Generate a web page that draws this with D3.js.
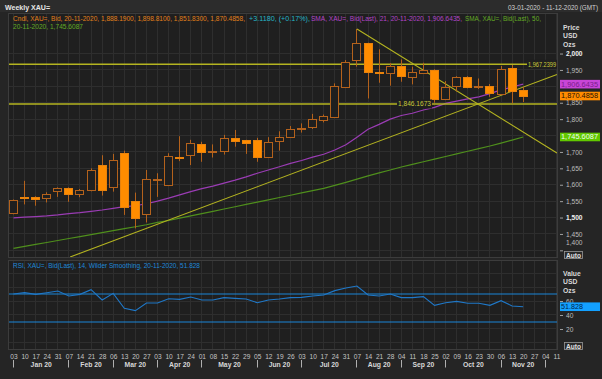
<!DOCTYPE html>
<html><head><meta charset="utf-8">
<script src="https://cdn.jsdelivr.net/npm/d3@7"></script>
<style>
html,body{margin:0;padding:0;background:#262626;}
svg{display:block;font-family:"Liberation Sans","DejaVu Sans",sans-serif;}
</style></head><body>
<svg id="c" width="602" height="379"></svg>
<script>
// ---------------- DATA ----------------
const weeks = ["2020-01-03","2020-01-10","2020-01-17","2020-01-24","2020-01-31",
"2020-02-07","2020-02-14","2020-02-21","2020-02-28",
"2020-03-06","2020-03-13","2020-03-20","2020-03-27",
"2020-04-03","2020-04-10","2020-04-17","2020-04-24",
"2020-05-01","2020-05-08","2020-05-15","2020-05-22","2020-05-29",
"2020-06-05","2020-06-12","2020-06-19","2020-06-26",
"2020-07-03","2020-07-10","2020-07-17","2020-07-24","2020-07-31",
"2020-08-07","2020-08-14","2020-08-21","2020-08-28",
"2020-09-04","2020-09-11","2020-09-18","2020-09-25",
"2020-10-02","2020-10-09","2020-10-16","2020-10-23","2020-10-30",
"2020-11-06","2020-11-13","2020-11-20","2020-11-27",
"2020-12-04","2020-12-11"];
const monthLabels = ["Jan 20","Feb 20","Mar 20","Apr 20","May 20","Jun 20","Jul 20","Aug 20","Sep 20","Oct 20","Nov 20",""];
const openP  = [1513,1564,1563,1559,1581,1590,1571,1584,1659,1592,1696,1551,1510,1616,1598,1686,1691,1724,1700,1703,1743,1735,1737,1684,1733,1746,1770,1777,1797,1807,1897,1980,2031,1945,1940,1963,1929,1940,1950,1860,1901,1929,1899,1901,1877,1955,1888.19];
const highP  = [1555,1612,1565,1577,1592,1592,1587,1650,1690,1694,1704,1576,1645,1635,1696,1748,1737,1731,1723,1752,1767,1737,1743,1745,1763,1779,1787,1816,1814,1909,1980,2075,2033,2013,1971,1982,1960,1972,1952,1916,1931,1931,1924,1907,1962,1965,1898.81];
const lowP   = [1510,1540,1536,1546,1563,1548,1562,1580,1567,1579,1508,1467,1485,1563,1596,1672,1660,1670,1683,1692,1716,1694,1670,1683,1704,1745,1759,1770,1790,1805,1895,1960,1863,1911,1902,1914,1906,1938,1850,1858,1884,1894,1892,1868,1875,1848,1851.83];
const closeP = [1553,1561,1557,1571,1590,1571,1585,1644,1585,1674,1531,1498,1617,1619,1688,1683,1727,1700,1702,1741,1734,1727,1685,1729,1745,1770,1773,1799,1810,1901,1973,2033,1943,1940,1963,1932,1943,1950,1861,1899,1929,1899,1902,1879,1952,1887,1870.4858];
const sma21 = [1499,1501,1503,1505,1508,1512,1515,1519,1523,1528,1533,1536,1542,1550,1559,1569,1579,1588,1596,1605,1614,1624,1635,1645,1655,1665,1674,1684,1693,1706,1722,1745,1769,1784,1800,1811,1818,1828,1836,1848,1855,1862,1868,1878,1889,1898,1906.6435];
const sma50 = [1406,1412,1418,1424,1430,1436,1442,1448,1454,1460,1466,1472,1478,1485,1491,1498,1505,1512,1519,1526,1533,1540,1547,1554,1561,1568,1575,1582,1589,1598,1607,1617,1627,1636,1645,1654,1662,1670,1678,1686,1694,1702,1710,1718,1727,1736,1745.6087];
const rsi = [70.0,71.9,69.5,71.9,74.3,67.1,69.5,76.2,61.4,70.9,49.5,46.2,57.1,57.1,63.3,62.4,65.7,61.4,61.4,64.8,63.8,62.9,57.6,61.4,62.9,64.8,65.2,67.1,68.6,74.8,78.6,81.4,68.6,67.1,70.0,64.8,64.8,66.2,53.8,57.6,59.5,56.7,56.7,53.8,60.5,52.9,51.828];
const priceTicks = [1400,1450,1500,1550,1600,1650,1700,1750,1800,1850,1900,1950,2000];
const rsiTicks = [20,40,60];
const rsiBands = [70,30];
const levels = [1967.2399, 1846.1673];
const trendUp = [[5.11,1379.7],[49.05,1936.4]];
const trendDown = [[31,2075],[49.05,1697]];

// ---------------- LAYOUT ----------------
const W=602,H=379, L=8.5, R=557.5, PT=13.5, PB=257.5, RT=260.5, RB=349.5;
const svg = d3.select("#c");
const dates = weeks.map(d3.timeParse("%Y-%m-%d"));
const x = d3.scaleLinear().domain([0,49]).range([13.5,556.4]);
const y = d3.scaleLinear().domain([1379.7,2123.6]).range([257,13]);
const yr = d3.scaleLinear().domain([-8.6,118.6]).range([349,260]);
const px = v => Math.round(v-0.5)+0.5;
const last = closeP.length-1;

svg.append("rect").attr("width",W).attr("height",H).attr("fill","#252525");
svg.append("rect").attr("width",W).attr("height",12).attr("fill","#2c2c2c");

const defs = svg.append("defs");
defs.append("clipPath").attr("id","cp").append("rect").attr("x",L).attr("y",PT).attr("width",R-L).attr("height",PB-PT);
defs.append("clipPath").attr("id","cr").append("rect").attr("x",L).attr("y",RT).attr("width",R-L).attr("height",RB-RT);

svg.append("rect").attr("x",L).attr("y",PT).attr("width",R-L).attr("height",PB-PT).attr("fill","#1f1f1f");
svg.append("rect").attr("x",L).attr("y",RT).attr("width",R-L).attr("height",RB-RT).attr("fill","#1f1f1f");

// grids
const gp = svg.append("g").attr("clip-path","url(#cp)");
const gr = svg.append("g").attr("clip-path","url(#cr)");
const idx = d3.range(weeks.length);
[gp,gr].forEach((g,k)=>{
  g.selectAll(".vg").data(idx).join("line")
    .attr("x1",i=>px(x(i))).attr("x2",i=>px(x(i)))
    .attr("y1",k?RT:PT).attr("y2",k?RB:PB).attr("stroke","#2e2e2e");
});
gp.selectAll(".hg").data(priceTicks).join("line")
  .attr("x1",L).attr("x2",R).attr("y1",d=>px(y(d))).attr("y2",d=>px(y(d))).attr("stroke","#2e2e2e");
gr.selectAll(".hg").data([0,20,40,60,80,100]).join("line")
  .attr("x1",L).attr("x2",R).attr("y1",d=>px(yr(d))).attr("y2",d=>px(yr(d))).attr("stroke","#2e2e2e");

// SMA lines
const cdata = openP.map((o,i)=>({i,o,h:highP[i],l:lowP[i],c:closeP[i]}));
const line = d3.line().x((d,i)=>x(i)).y(d=>y(d));
gp.append("path").attr("d",line(sma50)).attr("fill","none").attr("stroke","#4f8f1c").attr("stroke-width",1.2);
gp.append("path").attr("d",line(sma21)).attr("fill","none").attr("stroke","#9a3cb4").attr("stroke-width",1.2);

// trend lines
const tl = d3.line().x(d=>x(d[0])).y(d=>y(d[1]));
gp.append("path").attr("d",tl(trendUp)).attr("stroke","#b4b420").attr("stroke-width",1.1).attr("fill","none");
gp.append("path").attr("d",tl(trendDown)).attr("stroke","#b4b420").attr("stroke-width",1.1).attr("fill","none");

// horizontal levels
gp.append("line").attr("x1",L).attr("x2",527).attr("y1",y(levels[0])).attr("y2",y(levels[0])).attr("stroke","#b4b420").attr("stroke-width",1.5);
gp.append("line").attr("x1",L).attr("x2",R).attr("y1",y(levels[1])).attr("y2",y(levels[1])).attr("stroke","#b4b420").attr("stroke-width",1.5);

// candles
const cg = gp.append("g");
cg.selectAll(".wk").data(cdata).join("line")
  .attr("x1",d=>px(x(d.i))).attr("x2",d=>px(x(d.i)))
  .attr("y1",d=>y(d.h)).attr("y2",d=>y(d.l)).attr("stroke","#b4621c").attr("stroke-width",1);
cg.selectAll(".bd").data(cdata).join("rect")
  .attr("x",d=>px(x(d.i))-4).attr("width",8)
  .attr("y",d=>Math.round(y(Math.max(d.o,d.c)))+0.5)
  .attr("height",d=>Math.max(1,Math.round(y(Math.min(d.o,d.c)))-Math.round(y(Math.max(d.o,d.c)))))
  .attr("fill",d=>d.c>=d.o?"#1f1f1f":"#ff8c00")
  .attr("stroke",d=>d.c>=d.o?"#b4621c":"#e8820c").attr("stroke-width",1);

// level labels
function lvlLabel(v,x0,w){
  svg.append("rect").attr("x",x0).attr("y",y(v)-4.5).attr("width",w).attr("height",9).attr("fill","#1f1f1f");
  svg.append("text").attr("x",x0+1).attr("y",y(v)+2.4).attr("fill","#c8c83a").attr("font-size",6.6)
    .attr("textLength",w-2).attr("lengthAdjust","spacingAndGlyphs").text(d3.format(",.4f")(v));
}
lvlLabel(levels[0],527,30);
lvlLabel(levels[1],397,35);

// RSI
gr.selectAll(".band").data(rsiBands).join("line")
  .attr("x1",L).attr("x2",R).attr("y1",d=>yr(d)).attr("y2",d=>yr(d)).attr("stroke","#1a86d8").attr("stroke-width",1.2);
gr.append("path").attr("d",d3.line().x((d,i)=>x(i)).y(d=>yr(d))(rsi)).attr("fill","none").attr("stroke","#1f78c8").attr("stroke-width",1.1);

// pane borders
svg.append("rect").attr("x",L).attr("y",PT).attr("width",R-L).attr("height",PB-PT).attr("fill","none").attr("stroke","#3c3c3c");
svg.append("rect").attr("x",L).attr("y",RT).attr("width",R-L).attr("height",RB-RT).attr("fill","none").attr("stroke","#3c3c3c");

// right price axis
const tagVals = [sma21[last],closeP[last],sma50[last]];
const ax = svg.append("g").attr("transform","translate(560,0)")
  .call(d3.axisRight(y).tickValues(priceTicks).tickSize(3).tickPadding(3).tickFormat(d3.format(",")));
ax.select(".domain").remove();
ax.selectAll("line").attr("stroke","#a0a0a0");
ax.selectAll("text").attr("fill",d=>(d%500===0)?"#f0f0f0":"#bdbdbd").attr("font-size",6.6)
  .attr("font-weight",d=>(d%500===0)?"bold":"normal").attr("font-family","Liberation Sans, sans-serif")
  .attr("dy",d=>d===priceTicks[0]?"-0.9em":"0.32em");
// tick labels hidden behind the value tags (as in the reference)
ax.selectAll("text").filter(d=>tagVals.some(v=>Math.abs(y(v)-y(d))<6.5)).remove();

const rax = svg.append("g").attr("transform","translate(560,0)")
  .call(d3.axisRight(yr).tickValues(rsiTicks).tickSize(3).tickPadding(3));
rax.select(".domain").remove();
rax.selectAll("line").attr("stroke","#a0a0a0");
rax.selectAll("text").attr("fill","#bdbdbd").attr("font-size",6.6).attr("font-family","Liberation Sans, sans-serif");

function hdr(lines,y0){
  lines.forEach((t,k)=>svg.append("text").attr("x",563).attr("y",y0+k*8.5).attr("fill","#d8d8d8")
    .attr("font-size",6.8).attr("font-weight","bold").text(t));
}
hdr(["Price","USD","Ozs"],29.5);
hdr(["Value","USD","Ozs"],275.8);

function tag(yv,txt,bg,fg){
  svg.append("rect").attr("x",560).attr("y",yv-4.3).attr("width",40).attr("height",8.6).attr("fill",bg);
  svg.append("text").attr("x",561).attr("y",yv+2.4).attr("fill",fg).attr("font-size",6.8)
    .attr("textLength",txt.length>7?37:22).attr("lengthAdjust","spacingAndGlyphs").text(txt);
}
tag(y(sma21[last]),d3.format(",.4f")(sma21[last]),"#c845d8","#7a1e8c");
tag(y(closeP[last]),d3.format(",.4f")(closeP[last]),"#ff8c00","#2a1200");
tag(y(sma50[last]),d3.format(",.4f")(sma50[last]),"#62c800","#f0fff0");
tag(yr(rsi[last]),d3.format(".3f")(rsi[last]),"#13a0ff","#00264d");

function autoBtn(y0){
  svg.append("rect").attr("x",564.5).attr("y",y0).attr("width",18).attr("height",7).attr("fill","#2a2a2a").attr("stroke","#9a9a9a").attr("stroke-width",0.8);
  svg.append("text").attr("x",566).attr("y",y0+6).attr("fill","#e0e0e0").attr("font-size",6.4).attr("font-weight","bold")
    .attr("textLength",15).attr("lengthAdjust","spacingAndGlyphs").text("Auto");
}
autoBtn(251.5); autoBtn(342.5);

// x axis
const xa = svg.append("g").attr("transform",`translate(0,${RB})`)
  .call(d3.axisBottom(x).tickValues(idx).tickSize(0).tickPadding(4.6).tickFormat(i=>d3.timeFormat("%d")(dates[i])));
xa.select(".domain").remove();
xa.selectAll("text").attr("fill","#c4c4c4").attr("font-size",6.6).attr("font-family","Liberation Sans, sans-serif");

// months
const firsts = idx.filter(i=>i===0 || dates[i].getMonth()!==dates[i-1].getMonth());
svg.selectAll(".ms").data(firsts).join("line")
  .attr("x1",i=>px(x(i))).attr("x2",i=>px(x(i))).attr("y1",360).attr("y2",367.5).attr("stroke","#b0b0b0");
svg.selectAll(".ml").data(firsts).join("text")
  .attr("x",(i,k)=>(x(i)+(k+1<firsts.length?x(firsts[k+1]):R))/2).attr("y",366.5)
  .attr("text-anchor","middle").attr("fill","#d8d8d8").attr("font-size",6.8).attr("font-weight","bold")
  .text((i,k)=>monthLabels[k]);

// titles and legends
function seg(t,x0,w,yb,col,extra){
  const e = svg.append("text").attr("x",x0).attr("y",yb).attr("fill",col).attr("font-size",6.6)
    .attr("textLength",w).attr("lengthAdjust","spacingAndGlyphs").text(t);
  if(extra) extra(e);
}
seg("Weekly XAU=",5,45,9.5,"#e6e6e6",e=>e.attr("font-weight","bold").attr("font-size",7.4));
seg("03-01-2020 - 11-12-2020 (GMT)",508,90,9.5,"#d0d0d0");
seg("Cndl, XAU=, Bid, 20-11-2020, 1,888.1900, 1,898.8100, 1,851.8300, 1,870.4858,",13,232,20.5,"#e3801a");
seg("+3.1180, (+0.17%),",249,61,20.5,"#25b5c8");
seg("SMA, XAU=, Bid(Last),  21, 20-11-2020, 1,906.6435,",311,151,20.5,"#b444c8");
seg("SMA, XAU=, Bid(Last),  50,",465,76,20.5,"#62aa24");
seg("20-11-2020, 1,745.6087",13,70,28.5,"#62aa24");
seg("RSI, XAU=, Bid(Last),  14, Wilder Smoothing, 20-11-2020, 51.828",13,187,267.5,"#1e88d8");
</script>
</body></html>
